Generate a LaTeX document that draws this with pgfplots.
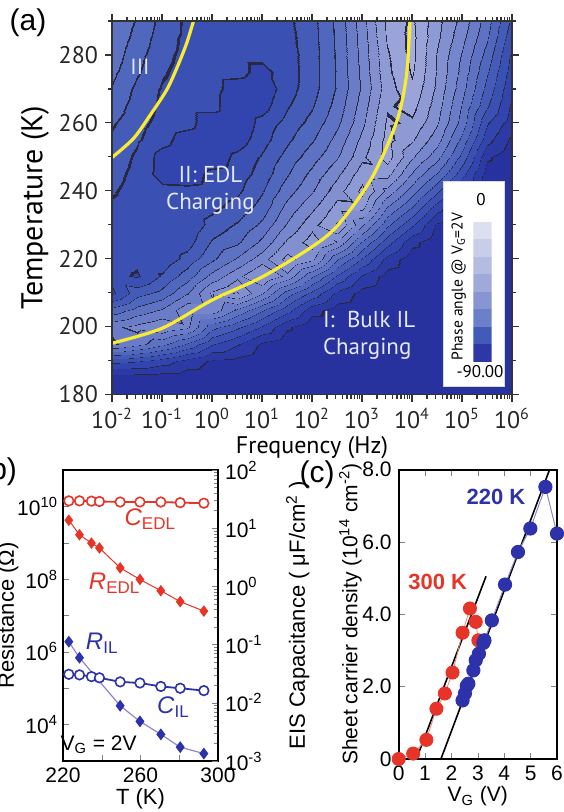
\documentclass[border=0pt]{standalone}
\usepackage{pgfplots}
\usepackage{pgfplotstable}
\pgfplotsset{compat=1.18}
\usepackage{fontspec}
\setmainfont{Liberation Sans}
\newfontfamily\ptsans{PT Sans}

\definecolor{cred}{RGB}{230,52,40}
\definecolor{cblue}{RGB}{45,50,170}
\definecolor{clav}{RGB}{140,135,205}
\definecolor{credl}{RGB}{240,130,120}
\definecolor{yel}{RGB}{248,236,50}
\definecolor{lbl}{RGB}{228,232,250}
\definecolor{cbA}{RGB}{45,56,166}
\definecolor{cbB}{RGB}{66,90,184}
\definecolor{cbC}{RGB}{108,128,202}
\definecolor{cbD}{RGB}{135,150,210}
\definecolor{cbE}{RGB}{160,170,218}
\definecolor{cbF}{RGB}{180,188,225}
\definecolor{cbG}{RGB}{200,205,232}
\definecolor{cbH}{RGB}{220,223,240}

\pgfplotstableread[row sep=\\]{
lf T p\\
-2 180 -89\\-1.5 180 -89\\-1 180 -89\\-0.5 180 -89\\0 180 -89\\0.5 180 -89\\1 180 -89\\1.5 180 -89\\2 180 -89\\2.5 180 -89\\3 180 -89\\3.5 180 -89\\4 180 -89\\4.5 180 -89\\5 180 -89\\5.5 180 -89\\6 180 -89\\
-2 185 -88\\-1.5 185 -88\\-1 185 -88\\-0.5 185 -88\\0 185 -88.5\\0.5 185 -89\\1 185 -89\\1.5 185 -89\\2 185 -89\\2.5 185 -89\\3 185 -89\\3.5 185 -89\\4 185 -89\\4.5 185 -89\\5 185 -89\\5.5 185 -89\\6 185 -89\\
-2 190 -73\\-1.5 190 -74.3\\-1 190 -77.3\\-0.5 190 -81.7\\0 190 -85.6\\0.5 190 -86.3\\1 190 -88.5\\1.5 190 -88.8\\2 190 -89\\2.5 190 -89\\3 190 -89\\3.5 190 -89\\4 190 -89\\4.5 190 -89\\5 190 -89\\5.5 190 -89\\6 190 -89\\
-2 195 -49\\-1.5 195 -53\\-1 195 -58.2\\-0.5 195 -65.3\\0 195 -74.3\\0.5 195 -79.2\\1 195 -85.6\\1.5 195 -88.5\\2 195 -88.8\\2.5 195 -89\\3 195 -89\\3.5 195 -89\\4 195 -89\\4.5 195 -89\\5 195 -89\\5.5 195 -89\\6 195 -89\\
-2 200 -51\\-1.5 200 -48.3\\-1 200 -45.3\\-0.5 200 -48.7\\0 200 -63\\0.5 200 -68.6\\1 200 -75.3\\1.5 200 -83.9\\2 200 -88.5\\2.5 200 -88.7\\3 200 -89\\3.5 200 -89\\4 200 -89\\4.5 200 -89\\5 200 -89\\5.5 200 -89\\6 200 -89\\
-2 205 -63\\-1.5 205 -58\\-1 205 -54.2\\-0.5 205 -46.3\\0 205 -46.6\\0.5 205 -55.7\\1 205 -64.2\\1.5 205 -72.9\\2 205 -82.7\\2.5 205 -87.1\\3 205 -88.7\\3.5 205 -89\\4 205 -89\\4.5 205 -89\\5 205 -89\\5.5 205 -89\\6 205 -89\\
-2 210 -76\\-1.5 210 -67\\-1 210 -63.2\\-0.5 210 -55.2\\0 210 -44\\0.5 210 -39.2\\1 210 -49.2\\1.5 210 -62\\2 210 -71.2\\2.5 210 -80.8\\3 210 -86.6\\3.5 210 -88.7\\4 210 -89\\4.5 210 -89\\5 210 -89\\5.5 210 -89\\6 210 -89\\
-2 215 -73\\-1.5 215 -75.4\\-1 215 -69.2\\-0.5 215 -62.3\\0 215 -53.1\\0.5 215 -46.2\\1 215 -39.2\\1.5 215 -46.4\\2 215 -58.9\\2.5 215 -70.3\\3 215 -80.3\\3.5 215 -86.8\\4 215 -89\\4.5 215 -89\\5 215 -89\\5.5 215 -89\\6 215 -89\\
-2 220 -72\\-1.5 220 -73.5\\-1 220 -73.3\\-0.5 220 -68\\0 220 -60.8\\0.5 220 -54.2\\1 220 -47\\1.5 220 -38\\2 220 -43.6\\2.5 220 -59.2\\3 220 -70.3\\3.5 220 -81.4\\4 220 -87.8\\4.5 220 -89\\5 220 -89\\5.5 220 -89\\6 220 -89\\
-2 225 -71.5\\-1.5 225 -73\\-1 225 -74.2\\-0.5 225 -72\\0 225 -64.2\\0.5 225 -60.8\\1 225 -53.6\\1.5 225 -43.8\\2 225 -37.3\\2.5 225 -45.2\\3 225 -60.2\\3.5 225 -72.5\\4 225 -83.2\\4.5 225 -88.5\\5 225 -89\\5.5 225 -89\\6 225 -89\\
-2 230 -71\\-1.5 230 -72.8\\-1 230 -73.8\\-0.5 230 -74.2\\0 230 -67.8\\0.5 230 -64.2\\1 230 -58.6\\1.5 230 -49.2\\2 230 -41.4\\2.5 230 -34.2\\3 230 -49.1\\3.5 230 -63.6\\4 230 -74.1\\4.5 230 -85.6\\5 230 -89\\5.5 230 -89\\6 230 -89\\
-2 235 -70.8\\-1.5 235 -72.5\\-1 235 -73.2\\-0.5 235 -73.7\\0 235 -70.9\\0.5 235 -67.9\\1 235 -62.6\\1.5 235 -53\\2 235 -45.8\\2.5 235 -37.8\\3 235 -38.4\\3.5 235 -55.3\\4 235 -65.3\\4.5 235 -77.6\\5 235 -86.8\\5.5 235 -89\\6 235 -89\\
-2 240 -69.2\\-1.5 240 -72\\-1 240 -73.2\\-0.5 240 -73.5\\0 240 -72.8\\0.5 240 -70.8\\1 240 -65.3\\1.5 240 -57\\2 240 -50.3\\2.5 240 -42\\3 240 -33.4\\3.5 240 -46.5\\4 240 -57.5\\4.5 240 -68.6\\5 240 -81.6\\5.5 240 -89\\6 240 -89\\
-2 245 -68\\-1.5 245 -71.3\\-1 245 -77\\-0.5 245 -77.5\\0 245 -73.5\\0.5 245 -72.4\\1 245 -67.8\\1.5 245 -60.3\\2 245 -53.3\\2.5 245 -46\\3 245 -37\\3.5 245 -38\\4 245 -50.3\\4.5 245 -60.3\\5 245 -73\\5.5 245 -87.3\\6 245 -89\\
-2 250 -67\\-1.5 250 -70.6\\-1 250 -77\\-0.5 250 -79\\0 250 -78\\0.5 250 -73.5\\1 250 -69.2\\1.5 250 -63\\2 250 -57\\2.5 250 -50.3\\3 250 -41\\3.5 250 -32.4\\4 250 -44.2\\4.5 250 -52.9\\5 250 -66.6\\5.5 250 -83.9\\6 250 -88.5\\
-2 255 -65.8\\-1.5 255 -69.2\\-1 255 -73\\-0.5 255 -77.5\\0 255 -79\\0.5 255 -77.5\\1 255 -71.8\\1.5 255 -65.8\\2 255 -60.3\\2.5 255 -53\\3 255 -43.3\\3.5 255 -33\\4 255 -39.2\\4.5 255 -47.8\\5 255 -61.4\\5.5 255 -78.1\\6 255 -86\\
-2 260 -64.2\\-1.5 260 -68.2\\-1 260 -71.5\\-0.5 260 -73\\0 260 -78\\0.5 260 -79\\1 260 -73\\1.5 260 -68\\2 260 -63\\2.5 260 -56\\3 260 -46\\3.5 260 -34\\4 260 -35.8\\4.5 260 -44.2\\5 260 -57\\5.5 260 -74.3\\6 260 -82.6\\
-2 265 -62\\-1.5 265 -67\\-1 265 -70.8\\-0.5 265 -73\\0 265 -73\\0.5 265 -79\\1 265 -77\\1.5 265 -70.3\\2 265 -65.3\\2.5 265 -57.8\\3 265 -47.5\\3.5 265 -35.5\\4 265 -33\\4.5 265 -42.5\\5 265 -55.3\\5.5 265 -69.2\\6 265 -80.8\\
-2 270 -60.3\\-1.5 270 -66\\-1 270 -70.3\\-0.5 270 -72.3\\0 270 -73\\0.5 270 -77.5\\1 270 -78.5\\1.5 270 -72\\2 270 -66.8\\2.5 270 -59.2\\3 270 -49\\3.5 270 -37\\4 270 -31\\4.5 270 -41\\5 270 -53\\5.5 270 -66.5\\6 270 -79.2\\
-2 275 -58.5\\-1.5 275 -64.2\\-1 275 -69.2\\-0.5 275 -71.8\\0 275 -72.8\\0.5 275 -73.2\\1 275 -76.5\\1.5 275 -72.3\\2 275 -67\\2.5 275 -59.2\\3 275 -48.5\\3.5 275 -36\\4 275 -29.2\\4.5 275 -40.3\\5 275 -51.5\\5.5 275 -64.2\\6 275 -77.5\\
-2 280 -57\\-1.5 280 -63\\-1 280 -68.3\\-0.5 280 -71.3\\0 280 -72.6\\0.5 280 -73.3\\1 280 -73.3\\1.5 280 -72\\2 280 -67\\2.5 280 -59\\3 280 -48\\3.5 280 -35.5\\4 280 -28.3\\4.5 280 -40.2\\5 280 -50.3\\5.5 280 -61.8\\6 280 -76\\
-2 285 -56\\-1.5 285 -61.5\\-1 285 -67.5\\-0.5 285 -71\\0 285 -72.5\\0.5 285 -73.3\\1 285 -73.3\\1.5 285 -71.5\\2 285 -66.8\\2.5 285 -58.8\\3 285 -47.5\\3.5 285 -34.2\\4 285 -28.3\\4.5 285 -38.8\\5 285 -48.3\\5.5 285 -59.2\\6 285 -73.5\\
-2 290 -55.3\\-1.5 290 -60.3\\-1 290 -66.5\\-0.5 290 -70.8\\0 290 -72.5\\0.5 290 -73.3\\1 290 -73\\1.5 290 -71\\2 290 -66.5\\2.5 290 -58.5\\3 290 -47\\3.5 290 -33.5\\4 290 -28.8\\4.5 290 -38\\5 290 -46.5\\5.5 290 -57.5\\6 290 -71\\
}\phasedata

\pgfplotsset{colormap={phase}{
rgb255(0pt)=(40,40,65); rgb255(0.4pt)=(40,50,158);
rgb255(5pt)=(40,40,65); rgb255(5.4pt)=(44,58,166);
rgb255(10pt)=(40,40,65); rgb255(10.4pt)=(50,68,173);
rgb255(15pt)=(40,40,65); rgb255(15.4pt)=(58,80,178);
rgb255(20pt)=(40,40,65); rgb255(20.4pt)=(68,92,184);
rgb255(25pt)=(40,40,65); rgb255(25.4pt)=(80,103,190);
rgb255(30pt)=(40,40,65); rgb255(30.4pt)=(93,114,195);
rgb255(35pt)=(40,40,65); rgb255(35.4pt)=(106,124,200);
rgb255(40pt)=(40,40,65); rgb255(40.4pt)=(118,134,204);
rgb255(45pt)=(40,40,65); rgb255(45.4pt)=(130,144,208);
rgb255(50pt)=(40,40,65); rgb255(50.4pt)=(142,154,212);
rgb255(55pt)=(40,40,65); rgb255(55.4pt)=(154,164,216);
rgb255(60pt)=(40,40,65); rgb255(60.4pt)=(166,174,221);
rgb255(65pt)=(40,40,65); rgb255(65.4pt)=(178,184,226);
rgb255(70pt)=(40,40,65); rgb255(70.4pt)=(190,194,230);
rgb255(75pt)=(40,40,65); rgb255(75.4pt)=(200,203,234);
rgb255(80pt)=(40,40,65); rgb255(80.4pt)=(210,212,238);
rgb255(85pt)=(40,40,65); rgb255(85.4pt)=(220,222,242);
rgb255(90pt)=(220,222,242)
}}

\begin{document}
\begin{tikzpicture}
\path[use as bounding box] (0pt,0pt) rectangle (281.5pt,-406pt);

% ---------------- panel (a) ----------------
\begin{axis}[
  at={(56pt,-197.25pt)}, anchor=south west,
  scale only axis, width=200pt, height=186.75pt,
  xmode=log, xmin=1e-2, xmax=1e6, ymin=180, ymax=290,
  xtick={1e-2,1e-1,1,1e1,1e2,1e3,1e4,1e5,1e6},
  xticklabels={10\textsuperscript{-2},10\textsuperscript{-1},10\textsuperscript{0},10\textsuperscript{1},10\textsuperscript{2},10\textsuperscript{3},10\textsuperscript{4},10\textsuperscript{5},10\textsuperscript{6}},
  ytick={180,200,220,240,260,280}, minor ytick={190,210,230,250,270,290},
  tick align=outside, major tick length=3.5pt, minor tick length=2pt,
  axis on top,
  axis line style={line width=0.6pt, black!80},
  every tick/.style={line width=0.6pt, black!80},
  tick label style={font=\ptsans\fontsize{12}{14}\selectfont, black!85},
  /pgf/number format/assume math mode=true,
  xlabel={Frequency (Hz)},
  xlabel style={font=\ptsans\fontsize{12}{14}\selectfont, yshift=3pt},
  ylabel={Temperature (K)},
  ylabel style={font=\ptsans\fontsize{15}{17}\selectfont, yshift=-2pt},
  point meta min=-90, point meta max=0,
  colormap name=phase, colormap access=piecewise constant,
]
\addplot[surf, shader=interp, mesh/cols=17, point meta=explicit]
  table[x expr={10^(\thisrow{lf})}, y=T, meta=p] {\phasedata};
\addplot[yel, line width=1.6pt, smooth] coordinates {
 (0.01,249.8) (0.02692,255.4) (0.05754,262.2) (0.1230,269.6) (0.1950,275.9) (0.3090,283.3) (0.4266,290)};
\addplot[yel, line width=1.6pt, smooth] coordinates {
 (0.01,195.1) (0.1,199.5) (1,207.8) (10,214.6) (100,223.5) (331,229.9) (1549,243.6) (4898,260.2) (7762,274) (9120,290)};
\node[text=lbl, font=\ptsans\fontsize{11}{13}\selectfont] at (axis cs:0.0363,276.4) {III};
\node[text=lbl, font=\ptsans\fontsize{11.5}{13.5}\selectfont, align=center] at (axis cs:0.93,240) {II: EDL\\Charging};
\node[text=lbl, font=\ptsans\fontsize{11.5}{13.5}\selectfont, align=left, anchor=west] at (axis cs:120,197.3) {I:\ \ Bulk IL\\Charging};
\end{axis}

% colour bar box
\fill[white, draw=black!15] (221.65pt,-90.85pt) rectangle (252pt,-193.35pt);
\begin{axis}[
  at={(236.65pt,-180.85pt)}, anchor=south west,
  scale only axis, width=9.1pt, height=70pt,
  xmin=0, xmax=1, ymin=-90, ymax=0, hide axis]
\addplot[draw=none, fill=cbA] coordinates {(0,-90) (1,-90) (1,-78.75) (0,-78.75)} -- cycle;
\addplot[draw=none, fill=cbB] coordinates {(0,-78.75) (1,-78.75) (1,-67.5) (0,-67.5)} -- cycle;
\addplot[draw=none, fill=cbC] coordinates {(0,-67.5) (1,-67.5) (1,-56.25) (0,-56.25)} -- cycle;
\addplot[draw=none, fill=cbD] coordinates {(0,-56.25) (1,-56.25) (1,-45) (0,-45)} -- cycle;
\addplot[draw=none, fill=cbE] coordinates {(0,-45) (1,-45) (1,-33.75) (0,-33.75)} -- cycle;
\addplot[draw=none, fill=cbF] coordinates {(0,-33.75) (1,-33.75) (1,-22.5) (0,-22.5)} -- cycle;
\addplot[draw=none, fill=cbG] coordinates {(0,-22.5) (1,-22.5) (1,-11.25) (0,-11.25)} -- cycle;
\addplot[draw=none, fill=cbH] coordinates {(0,-11.25) (1,-11.25) (1,0) (0,0)} -- cycle;
\end{axis}
\node[font=\ptsans\fontsize{8.5}{10}\selectfont] at (240.5pt,-99.65pt) {0};
\node[font=\ptsans\fontsize{8.5}{10}\selectfont] at (240pt,-186pt) {-90.00};
\node[rotate=90, font=\ptsans\fontsize{7.8}{9}\selectfont] at (229.4pt,-143.35pt) {Phase angle @ V\textsubscript{G}=2V};

\node[font=\fontsize{15}{17}\selectfont] at (14pt,-11.5pt) {(a)};
\node[font=\fontsize{15}{17}\selectfont, anchor=east] at (12pt,-235.75pt) {(b)};
\node[font=\fontsize{15}{17}\selectfont] at (158.5pt,-237.5pt) {(c)};

% ---------------- panel (b) ----------------
\begin{axis}[
  at={(31.5pt,-380.5pt)}, anchor=south west,
  scale only axis, width=77.5pt, height=145.5pt,
  xmin=220, xmax=300, xtick={220,260,300}, minor xtick={240,280},
  ymode=log, ymin=1e3, ymax=1e11,
  ytick={1e4,1e6,1e8,1e10}, minor ytick={1e5,1e7,1e9},
  yticklabels={10\textsuperscript{4},10\textsuperscript{6},10\textsuperscript{8},10\textsuperscript{10}},
  ytick pos=left, xtick pos=bottom,
  tick align=inside, major tick length=3pt, minor tick length=3pt,
  axis line style={line width=1pt},
  tick label style={font=\fontsize{10.5}{12}\selectfont},
  yticklabel style={xshift=1pt},
  /pgf/number format/assume math mode=true,
  xlabel={T (K)}, ylabel={Resistance (Ω)},
  label style={font=\fontsize{11}{13}\selectfont},
  xlabel style={yshift=4pt},
  ylabel style={yshift=-7.5pt},
  clip=false,
]
\addplot[cred, line width=0.5pt, mark=diamond*, mark size=2.5pt, mark options={fill=cred}] coordinates {
 (223,4.17e9) (228.5,1.66e9) (234.7,9.8e8) (238.8,7.2e8) (249.5,2.04e8) (259.7,9.8e7) (270.5,4.8e7) (280.5,2.4e7) (292.7,1.32e7)};
\addplot[clav, line width=0.6pt, mark=diamond*, mark size=2.5pt, mark options={fill=cblue, draw=cblue}] coordinates {
 (223,1.9e6) (228.5,6.9e5) (249.5,3.3e4) (259.7,1.23e4) (270.5,5.4e3) (280.5,2.4e3) (292.7,1.6e3)};
\node[text=cred, font=\fontsize{12}{14}\selectfont] at (rel axis cs:0.56,0.83) {\textit{C}\raisebox{-0.3ex}{\fontsize{8.5}{10}\selectfont EDL}};
\node[text=cred, font=\fontsize{12}{14}\selectfont] at (rel axis cs:0.33,0.61) {\textit{R}\raisebox{-0.3ex}{\fontsize{8.5}{10}\selectfont EDL}};
\node[text=cblue, font=\fontsize{12}{14}\selectfont] at (rel axis cs:0.25,0.405) {\textit{R}\raisebox{-0.3ex}{\fontsize{8.5}{10}\selectfont IL}};
\node[text=cblue, font=\fontsize{12}{14}\selectfont] at (rel axis cs:0.71,0.186) {\textit{C}\raisebox{-0.3ex}{\fontsize{8.5}{10}\selectfont IL}};
\node[font=\fontsize{10.5}{12}\selectfont] at (rel axis cs:0.23,0.055) {V\textsubscript{G} = 2V};
\end{axis}
\begin{axis}[
  at={(31.5pt,-380.5pt)}, anchor=south west,
  scale only axis, width=77.5pt, height=145.5pt,
  xmin=220, xmax=300,
  ymode=log, ymin=1e-3, ymax=1e2,
  axis y line*=right, axis x line=none,
  ytick={1e-3,1e-2,1e-1,1,1e1,1e2},
  yticklabels={10\textsuperscript{-3},10\textsuperscript{-2},10\textsuperscript{-1},10\textsuperscript{0},10\textsuperscript{1},10\textsuperscript{2}},
  tick align=inside, major tick length=3pt, minor tick length=2pt,
  axis line style={line width=1pt},
  tick label style={font=\fontsize{10.5}{12}\selectfont},
  ylabel={EIS Capacitance ( μF/cm\textsuperscript{2} )},
  label style={font=\fontsize{11}{13}\selectfont},
  ylabel style={yshift=-5pt},
  clip=false,
]
\addplot[cred, line width=0.9pt, mark=*, mark size=2.4pt, mark options={fill=white, draw=cred, line width=0.8pt}] coordinates {
 (223,29.5) (228.5,29.5) (234.7,29.2) (238.8,28.8) (249.5,28.2) (259.7,28.2) (270.5,28.2) (280.5,27.5) (292.7,26.9)};
\addplot[cblue, line width=0.9pt, mark=*, mark size=2.4pt, mark options={fill=white, draw=cblue, line width=0.8pt}] coordinates {
 (223,0.0309) (228.5,0.0302) (234.7,0.0282) (238.8,0.0269) (249.5,0.0229) (259.7,0.0219) (270.5,0.0191) (280.5,0.0178) (292.7,0.0162)};
\end{axis}

% ---------------- panel (c) ----------------
\begin{axis}[
  at={(199.35pt,-379.5pt)}, anchor=south west,
  scale only axis, width=79.15pt, height=144.75pt,
  xmin=0, xmax=6, ymin=0, ymax=8,
  xtick={0,1,2,3,4,5,6}, ytick={0,2,4,6,8}, yticklabels={0,2.0,4.0,6.0,8.0},
  tick align=inside, major tick length=3pt,
  axis line style={line width=1pt},
  tick label style={font=\fontsize{10.5}{12}\selectfont},
  /pgf/number format/assume math mode=true,
  xlabel={V\textsubscript{G} (V)},
  ylabel={Sheet carrier density (10\textsuperscript{14} cm\textsuperscript{-2})},
  label style={font=\fontsize{10.5}{12}\selectfont},
  xlabel style={yshift=4pt},
  ylabel style={yshift=-6.5pt},
  clip=false,
]
\addplot[black, line width=0.8pt] coordinates {(0.67,0) (3.31,5.05)};
\addplot[black, line width=0.8pt] coordinates {(1.6,0) (5.72,8.0)};
\addplot[credl, line width=0.4pt, mark=*, mark size=3.3pt, mark options={fill=cred, draw=cred}] coordinates {
 (0,0) (0.55,0.15) (1.05,0.53) (1.43,1.39) (1.75,1.81) (2.04,2.39) (2.42,3.49) (2.70,4.16) (2.92,3.79) (3.02,3.28)};
\addplot[clav, line width=0.5pt, mark=*, mark size=3.3pt, mark options={fill=cblue, draw=cblue}] coordinates {
 (2.42,1.62) (2.51,1.81) (2.58,2.02) (2.64,2.08) (2.83,2.45) (2.92,2.73) (3.04,2.91) (3.21,3.21) (3.25,3.28) (3.53,3.83) (4.03,4.82) (4.52,5.72) (4.99,6.37) (5.56,7.52) (6.0,6.23)};
\node[text=cred, font=\bfseries\fontsize{11}{13}\selectfont] at (axis cs:1.48,4.89) {300 K};
\node[text=cblue, font=\bfseries\fontsize{11}{13}\selectfont] at (axis cs:3.69,7.24) {220 K};
\end{axis}
\end{tikzpicture}
\end{document}
